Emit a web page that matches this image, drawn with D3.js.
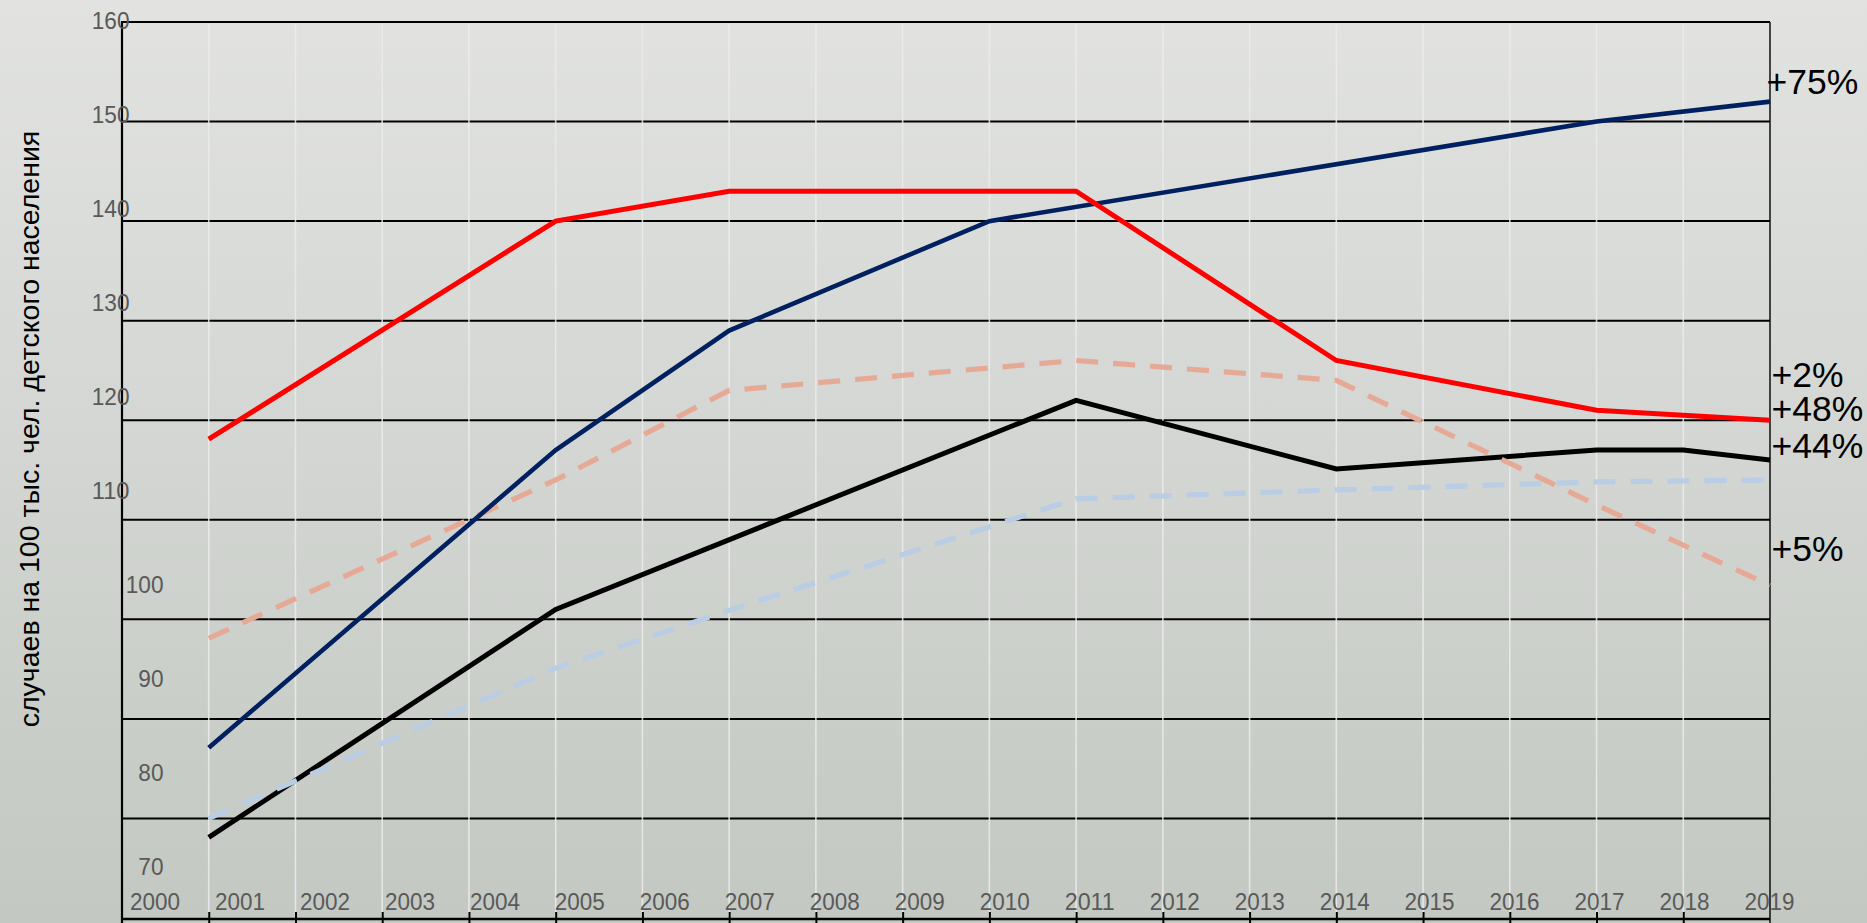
<!DOCTYPE html>
<html>
<head>
<meta charset="utf-8">
<script src="https://cdn.jsdelivr.net/npm/d3@7"></script>
<style>
  body { margin: 0; overflow: hidden; }
  svg { display: block; }
</style>
</head>
<body>
<div id="chart"></div>
<script>
// values (only the years where a line bends)
const redYears = [2001, 2005, 2007, 2011, 2014, 2017, 2019];
const redValues = [118.1, 140.0, 143.0, 143.0, 126.0, 121.0, 120.0];

const navyYears = [2001, 2005, 2007, 2010, 2017, 2019];
const navyValues = [87.1, 117.0, 129.0, 140.0, 150.0, 152.0];

const salmonYears = [2001, 2005, 2007, 2011, 2014, 2017, 2019];
const salmonValues = [98.1, 114.0, 123.0, 126.0, 124.0, 111.5, 103.4];

const blackYears = [2001, 2005, 2011, 2014, 2017, 2018, 2019];
const blackValues = [78.1, 101.0, 122.0, 115.1, 117.0, 117.0, 116.0];

const blueYears = [2001, 2005, 2007, 2011, 2014, 2017, 2019];
const blueValues = [80.0, 95.1, 100.9, 112.1, 113.0, 113.8, 114.0];

const yearLabels = d3.range(2000, 2020);
const valueLabels = [70, 80, 90, 100, 110, 120, 130, 140, 150, 160];
const endLabels = ["+75%", "+2%", "+48%", "+44%", "+5%"];
const endLabelAt = [152.8, 123.3, 119.9, 116.2, 105.9];
const yTitle = "случаев на 100 тыс. чел. детского населения";

var W = 1867, H = 923;
// note: "top" is taken by window.top, so plot edges get their own names
var plotL = 122, plotR = 1770, plotT = 22, plotB = 918;

var x = d3.scaleLinear().domain([2000, 2019]).range([plotL, plotR]);
var y = d3.scaleLinear().domain([70, 160]).range([plotB, plotT]);
// the labels in the original are pasted slightly out of step with the grid
var xLab = d3.scaleLinear().domain([2000, 2019]).range([154.5, 1769]);
var yLab = d3.scaleLinear().domain([70, 160]).range([866.7, 20.5]);

var svg = d3.select("#chart").append("svg")
    .attr("width", W)
    .attr("height", H);

// background
var grad = svg.append("defs").append("linearGradient")
    .attr("id", "bg").attr("x1", 0).attr("y1", 0).attr("x2", 0).attr("y2", 1);
grad.append("stop").attr("offset", "0%").attr("stop-color", "#e2e3e1");
grad.append("stop").attr("offset", "100%").attr("stop-color", "#c3c8c2");
svg.append("rect").attr("width", W).attr("height", H).attr("fill", "url(#bg)");

// horizontal grid (black)
svg.append("g").selectAll("line")
    .data(valueLabels.filter(function (d) { return d > 70; }))
    .join("line")
    .attr("x1", plotL).attr("x2", plotR)
    .attr("y1", function (d) { return y(d); })
    .attr("y2", function (d) { return y(d); })
    .attr("stroke", "#000")
    .attr("stroke-width", 2);

// vertical grid (light)
svg.append("g").selectAll("line")
    .data(yearLabels.filter(function (d) { return d > 2000 && d < 2019; }))
    .join("line")
    .attr("x1", function (d) { return x(d); })
    .attr("x2", function (d) { return x(d); })
    .attr("y1", plotT + 2).attr("y2", plotB)
    .attr("stroke", "#ebebeb")
    .attr("stroke-opacity", 0.85)
    .attr("stroke-width", 1.6);

// frame
svg.append("line").attr("x1", plotL).attr("x2", plotL).attr("y1", plotT - 1).attr("y2", H)
    .attr("stroke", "#000").attr("stroke-width", 2.2);
svg.append("line").attr("x1", plotR).attr("x2", plotR).attr("y1", plotT).attr("y2", H)
    .attr("stroke", "#000").attr("stroke-width", 1.4);
svg.append("line").attr("x1", plotL).attr("x2", plotR).attr("y1", plotB + 1).attr("y2", plotB + 1)
    .attr("stroke", "#000").attr("stroke-width", 2.6);

// bottom tick marks
var tickAxis = svg.append("g")
    .attr("transform", "translate(0," + (plotB - 6) + ")")
    .call(d3.axisBottom(x)
        .tickValues(yearLabels.filter(function (d) { return d > 2000 && d < 2019; }))
        .tickSize(14)
        .tickFormat(""));
tickAxis.select(".domain").remove();
tickAxis.selectAll(".tick line").attr("stroke", "#000").attr("stroke-width", 2);

// year labels
var xAxis = svg.append("g")
    .attr("transform", "translate(0,901.5)")
    .call(d3.axisBottom(xLab).tickValues(yearLabels).tickSize(0).tickPadding(0).tickFormat(d3.format("d")));
xAxis.select(".domain").remove();
xAxis.selectAll("text")
    .attr("y", 0).attr("dy", "0.36em")
    .attr("fill", "#595959")
    .style("font-family", "'Liberation Sans', Arial, sans-serif")
    .style("font-size", "23.5px")
    .attr("textLength", 50)
    .attr("lengthAdjust", "spacingAndGlyphs");

// value labels
var yAxis = svg.append("g")
    .call(d3.axisLeft(yLab).tickValues(valueLabels).tickSize(0).tickPadding(0));
yAxis.select(".domain").remove();
yAxis.selectAll(".tick")
    .attr("transform", function (d) {
        return "translate(" + (d >= 110 ? 129.5 : 163.5) + "," + yLab(d) + ")";
    });
yAxis.selectAll("text")
    .attr("x", 0).attr("dy", "0.36em")
    .attr("text-anchor", "end")
    .attr("fill", "#595959")
    .style("font-family", "'Liberation Sans', Arial, sans-serif")
    .style("font-size", "23.5px")
    .attr("textLength", function (d) { return String(d).length * 12.6; })
    .attr("lengthAdjust", "spacingAndGlyphs");

// axis title
svg.append("text")
    .attr("transform", "translate(29,429) rotate(-90)")
    .attr("text-anchor", "middle")
    .attr("dy", "0.35em")
    .style("font-family", "'Liberation Sans', Arial, sans-serif")
    .style("font-size", "28.5px")
    .attr("fill", "#000")
    .text(yTitle);

// lines
var line = d3.line()
    .x(function (d) { return x(d[0]); })
    .y(function (d) { return y(d[1]); });

function drawSeries(years, values, color, width, dash) {
    var pts = d3.zip(years, values);
    var p = svg.append("path")
        .datum(pts)
        .attr("d", line)
        .attr("fill", "none")
        .attr("stroke", color)
        .attr("stroke-width", width)
        .attr("stroke-linejoin", "miter");
    if (dash) p.attr("stroke-dasharray", dash);
}

drawSeries(blackYears, blackValues, "#000000", 5, null);
drawSeries(blueYears, blueValues, "#b9cde5", 5.2, "22,15");
drawSeries(salmonYears, salmonValues, "#e6a996", 5.2, "22,15");
drawSeries(navyYears, navyValues, "#002060", 4.6, null);
drawSeries(redYears, redValues, "#ff0000", 5, null);

// end labels
svg.append("g").selectAll("text")
    .data(endLabels)
    .join("text")
    .attr("x", function (d, i) { return i === 0 ? 1766.5 : 1771.5; })
    .attr("y", function (d, i) { return y(endLabelAt[i]); })
    .style("font-family", "'Liberation Sans', Arial, sans-serif")
    .style("font-size", "35.5px")
    .attr("fill", "#000")
    .text(function (d) { return d; });
</script>
</body>
</html>
